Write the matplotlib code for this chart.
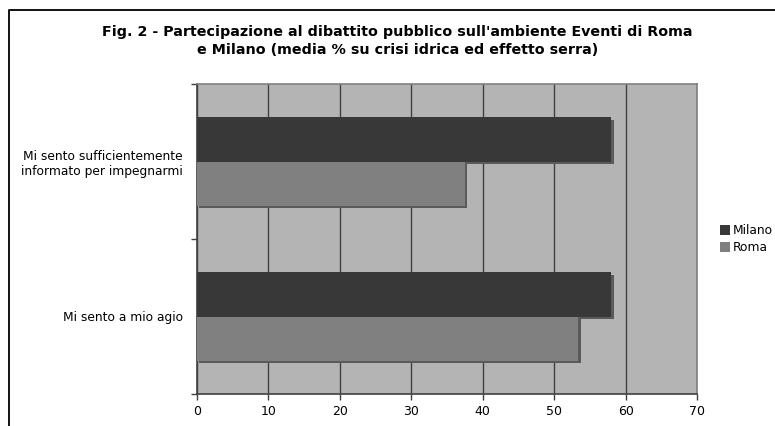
import numpy as np
import matplotlib.pyplot as plt
import matplotlib.patheffects as pe
from matplotlib.lines import Line2D
from matplotlib.patches import Patch

# Data (bottom to top)
categories = ['Mi sento a mio agio', 'Mi sento sufficientemente\ninformato per impegnarmi']
milano = [58.0, 58.0]
roma = [53.4, 37.5]
xticks = [0, 10, 20, 30, 40, 50, 60, 70]

W, H = 775, 426
fig = plt.figure(figsize=(W / 100, H / 100), dpi=100)
fig.patch.set_facecolor('white')

# outer frame of the chart (left and top edges)
fx, fy = 8.5 / W, 1 - 10 / H
fig.add_artist(Line2D([fx, fx, 1.2], [-0.2, fy, fy], transform=fig.transFigure,
                      color='black', linewidth=1.3, clip_on=False))

ax = fig.add_axes([197 / W, 1 - 394 / H, 500 / W, 310 / H])
ax.set_facecolor('#b4b4b4')

y = np.arange(len(categories))
h = 0.285
shadow = [pe.SimplePatchShadow(offset=(1.6, -1.6), shadow_rgbFace='#5a5a5a', alpha=1.0), pe.Normal()]
ax.barh(y + h / 2, milano, height=h, color='#383838',
        path_effects=shadow, zorder=3)
ax.barh(y - h / 2, roma, height=h, color='#808080',
        path_effects=shadow, zorder=3)

ax.set_xlim(0, 70)
ax.set_ylim(-0.5, 1.5)
ax.set_xticks(xticks)
ax.set_xticklabels([str(t) for t in xticks], fontsize=9)
ax.tick_params(axis='x', length=4, width=1, color='#404040', pad=4)
ax.xaxis.grid(True, color='#404040', linewidth=1)
ax.set_axisbelow(True)

ax.set_yticks([-0.5, 0.5, 1.5])
ax.set_yticklabels([])
ax.tick_params(axis='y', which='major', length=4, width=1, color='#404040')
ax.set_yticks(y, minor=True)
ax.set_yticklabels(categories, minor=True, fontsize=8.8, ha='right')
ax.tick_params(axis='y', which='minor', length=0, pad=10)

for side in ['left', 'bottom']:
    ax.spines[side].set_color('#404040')
    ax.spines[side].set_linewidth(1.2)
for side in ['top', 'right']:
    ax.spines[side].set_color('#808080')
    ax.spines[side].set_linewidth(1.2)

fig.text(0.5 + 10 / W, 1 - 41 / H,
         "Fig. 2 - Partecipazione al dibattito pubblico sull'ambiente Eventi di Roma\n"
         "e Milano (media % su crisi idrica ed effetto serra)",
         ha='center', va='center', fontsize=10.3, fontweight='bold', linespacing=1.45)

handles = [Patch(facecolor='#383838', label='Milano'),
           Patch(facecolor='#808080', label='Roma')]
ax.legend(handles=handles, loc='center left', bbox_to_anchor=(1.046, 0.5), frameon=False,
          fontsize=8.8, handlelength=0.85, handleheight=0.85, handletextpad=0.2,
          labelspacing=0.35, borderaxespad=0, borderpad=0)

fig.savefig('out.png', dpi=100)
